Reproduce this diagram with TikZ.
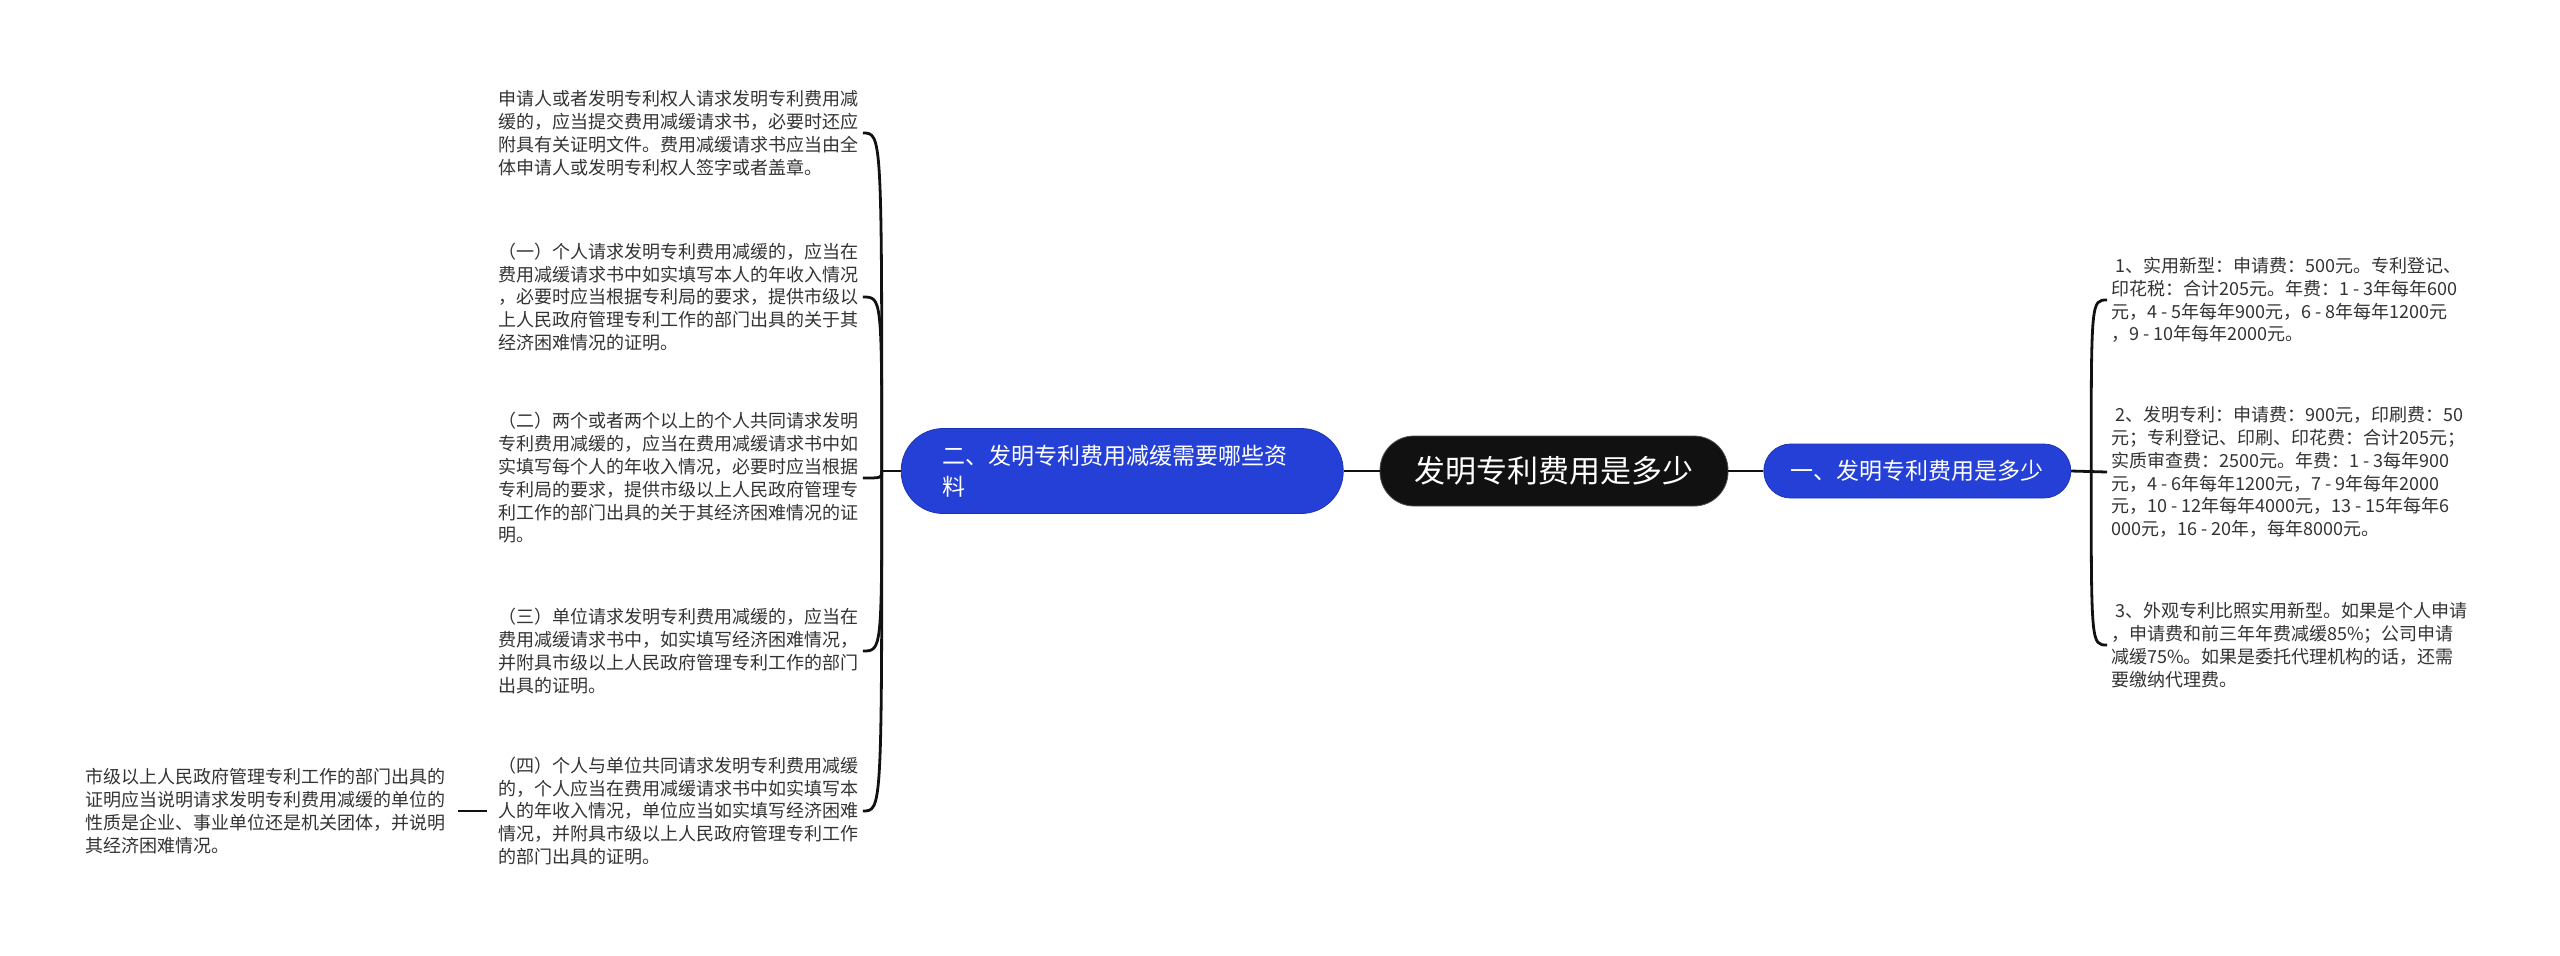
\documentclass[tikz,border=0pt]{standalone}
\usepackage{fontspec}
\setmainfont{Noto Sans CJK SC}
\usetikzlibrary{positioning,calc}
\definecolor{topicfill}{RGB}{17,17,17}
\definecolor{topicline}{RGB}{80,80,80}
\definecolor{subfill}{RGB}{36,64,214}
\definecolor{subline}{RGB}{30,52,175}
\definecolor{leaftext}{RGB}{51,51,51}
\definecolor{linkline}{RGB}{17,17,17}

\begin{document}
\begin{tikzpicture}[x=0.5pt, y=-0.5pt,
  topic/.style={draw=topicline, fill=topicfill, text=white, rounded corners=17pt, minimum width=174pt, minimum height=35pt, inner sep=0pt, font=\fontsize{15.5}{18}\selectfont},
  sub/.style={draw=subline, fill=subfill, text=white, inner sep=0pt, font=\fontsize{11.5}{15.5}\selectfont},
  subl/.style={sub, rounded corners=21pt, text width=180pt, align=left, inner xsep=20.5pt, minimum height=42.5pt},
  subr/.style={sub, rounded corners=13.5pt, minimum width=153.5pt, minimum height=27pt},
  leaf/.style={text=leaftext, align=left, inner xsep=2pt, inner ysep=3pt, anchor=west, font=\fontsize{9}{11.4}\selectfont},
  link/.style={draw=linkline, line width=1.4pt},
  gap/.style={link, shorten <=4pt, shorten >=3.5pt}]
\useasboundingbox (0,0) rectangle (2560,955);

% ---- centre and the two main branches ----
\node[topic] (ct) at (1554,471) {发明专利费用是多少};
\node[subl, left=18pt of ct] (lb) {二、发明专利费用减缓需要哪些资\\料};
\node[subr, right=17.5pt of ct] (rb) {一、发明专利费用是多少};
\coordinate (lj) at ([xshift=-9.5pt]lb.west);
\coordinate (rj) at ([xshift=10pt]rb.east);

% ---- left leaves (what the request needs) ----
\node[leaf] (t1) at (494,133) {申请人或者发明专利权人请求发明专利费用减\\缓的，应当提交费用减缓请求书，必要时还应\\附具有关证明文件。费用减缓请求书应当由全\\体申请人或发明专利权人签字或者盖章。};
\node[leaf] (t2) at (494,297) {（一）个人请求发明专利费用减缓的，应当在\\费用减缓请求书中如实填写本人的年收入情况\\，必要时应当根据专利局的要求，提供市级以\\上人民政府管理专利工作的部门出具的关于其\\经济困难情况的证明。};
\node[leaf] (t3) at (494,478) {（二）两个或者两个以上的个人共同请求发明\\专利费用减缓的，应当在费用减缓请求书中如\\实填写每个人的年收入情况，必要时应当根据\\专利局的要求，提供市级以上人民政府管理专\\利工作的部门出具的关于其经济困难情况的证\\明。};
\node[leaf] (t4) at (494,651) {（三）单位请求发明专利费用减缓的，应当在\\费用减缓请求书中，如实填写经济困难情况，\\并附具市级以上人民政府管理专利工作的部门\\出具的证明。};
\node[leaf] (t5) at (494,811) {（四）个人与单位共同请求发明专利费用减缓\\的，个人应当在费用减缓请求书中如实填写本\\人的年收入情况，单位应当如实填写经济困难\\情况，并附具市级以上人民政府管理专利工作\\的部门出具的证明。};
\node[leaf] (t6) at (81,811) {市级以上人民政府管理专利工作的部门出具的\\证明应当说明请求发明专利费用减缓的单位的\\性质是企业、事业单位还是机关团体，并说明\\其经济困难情况。};

% ---- right leaves (the fees) ----
\node[leaf] (r1) at (2107,300) {\hspace*{2pt}1、实用新型：申请费：500元。专利登记、\\印花税：合计205元。年费：1 - 3年每年600\\元，4 - 5年每年900元，6 - 8年每年1200元\\，9 - 10年每年2000元。};
\node[leaf] (r2) at (2107,472) {\hspace*{2pt}2、发明专利：申请费：900元，印刷费：50\\元；专利登记、印刷、印花费：合计205元；\\实质审查费：2500元。年费：1 - 3每年900\\元，4 - 6年每年1200元，7 - 9年每年2000\\元，10 - 12年每年4000元，13 - 15年每年6\\000元，16 - 20年，每年8000元。};
\node[leaf] (r3) at (2107,645) {\hspace*{2pt}3、外观专利比照实用新型。如果是个人申请\\，申请费和前三年年费减缓85\%；公司申请\\减缓75\%。如果是委托代理机构的话，还需\\要缴纳代理费。};

% ---- connectors ----
\draw[link] (lb) -- (ct);
\draw[link] (ct) -- (rb);
\draw[link] (lb.west) -- (lj);
\foreach \n in {t1,t2,t3,t4,t5}
  \draw[link] (lj) .. controls (lj |- \n.east) .. (\n.east);
\draw[link] (rb.east) -- (r2.west);
\foreach \n in {r1,r3}
  \draw[link] (rj) .. controls (rj |- \n.west) .. (\n.west);
\draw[gap] (t6) -- (t5);
\end{tikzpicture}
\end{document}
